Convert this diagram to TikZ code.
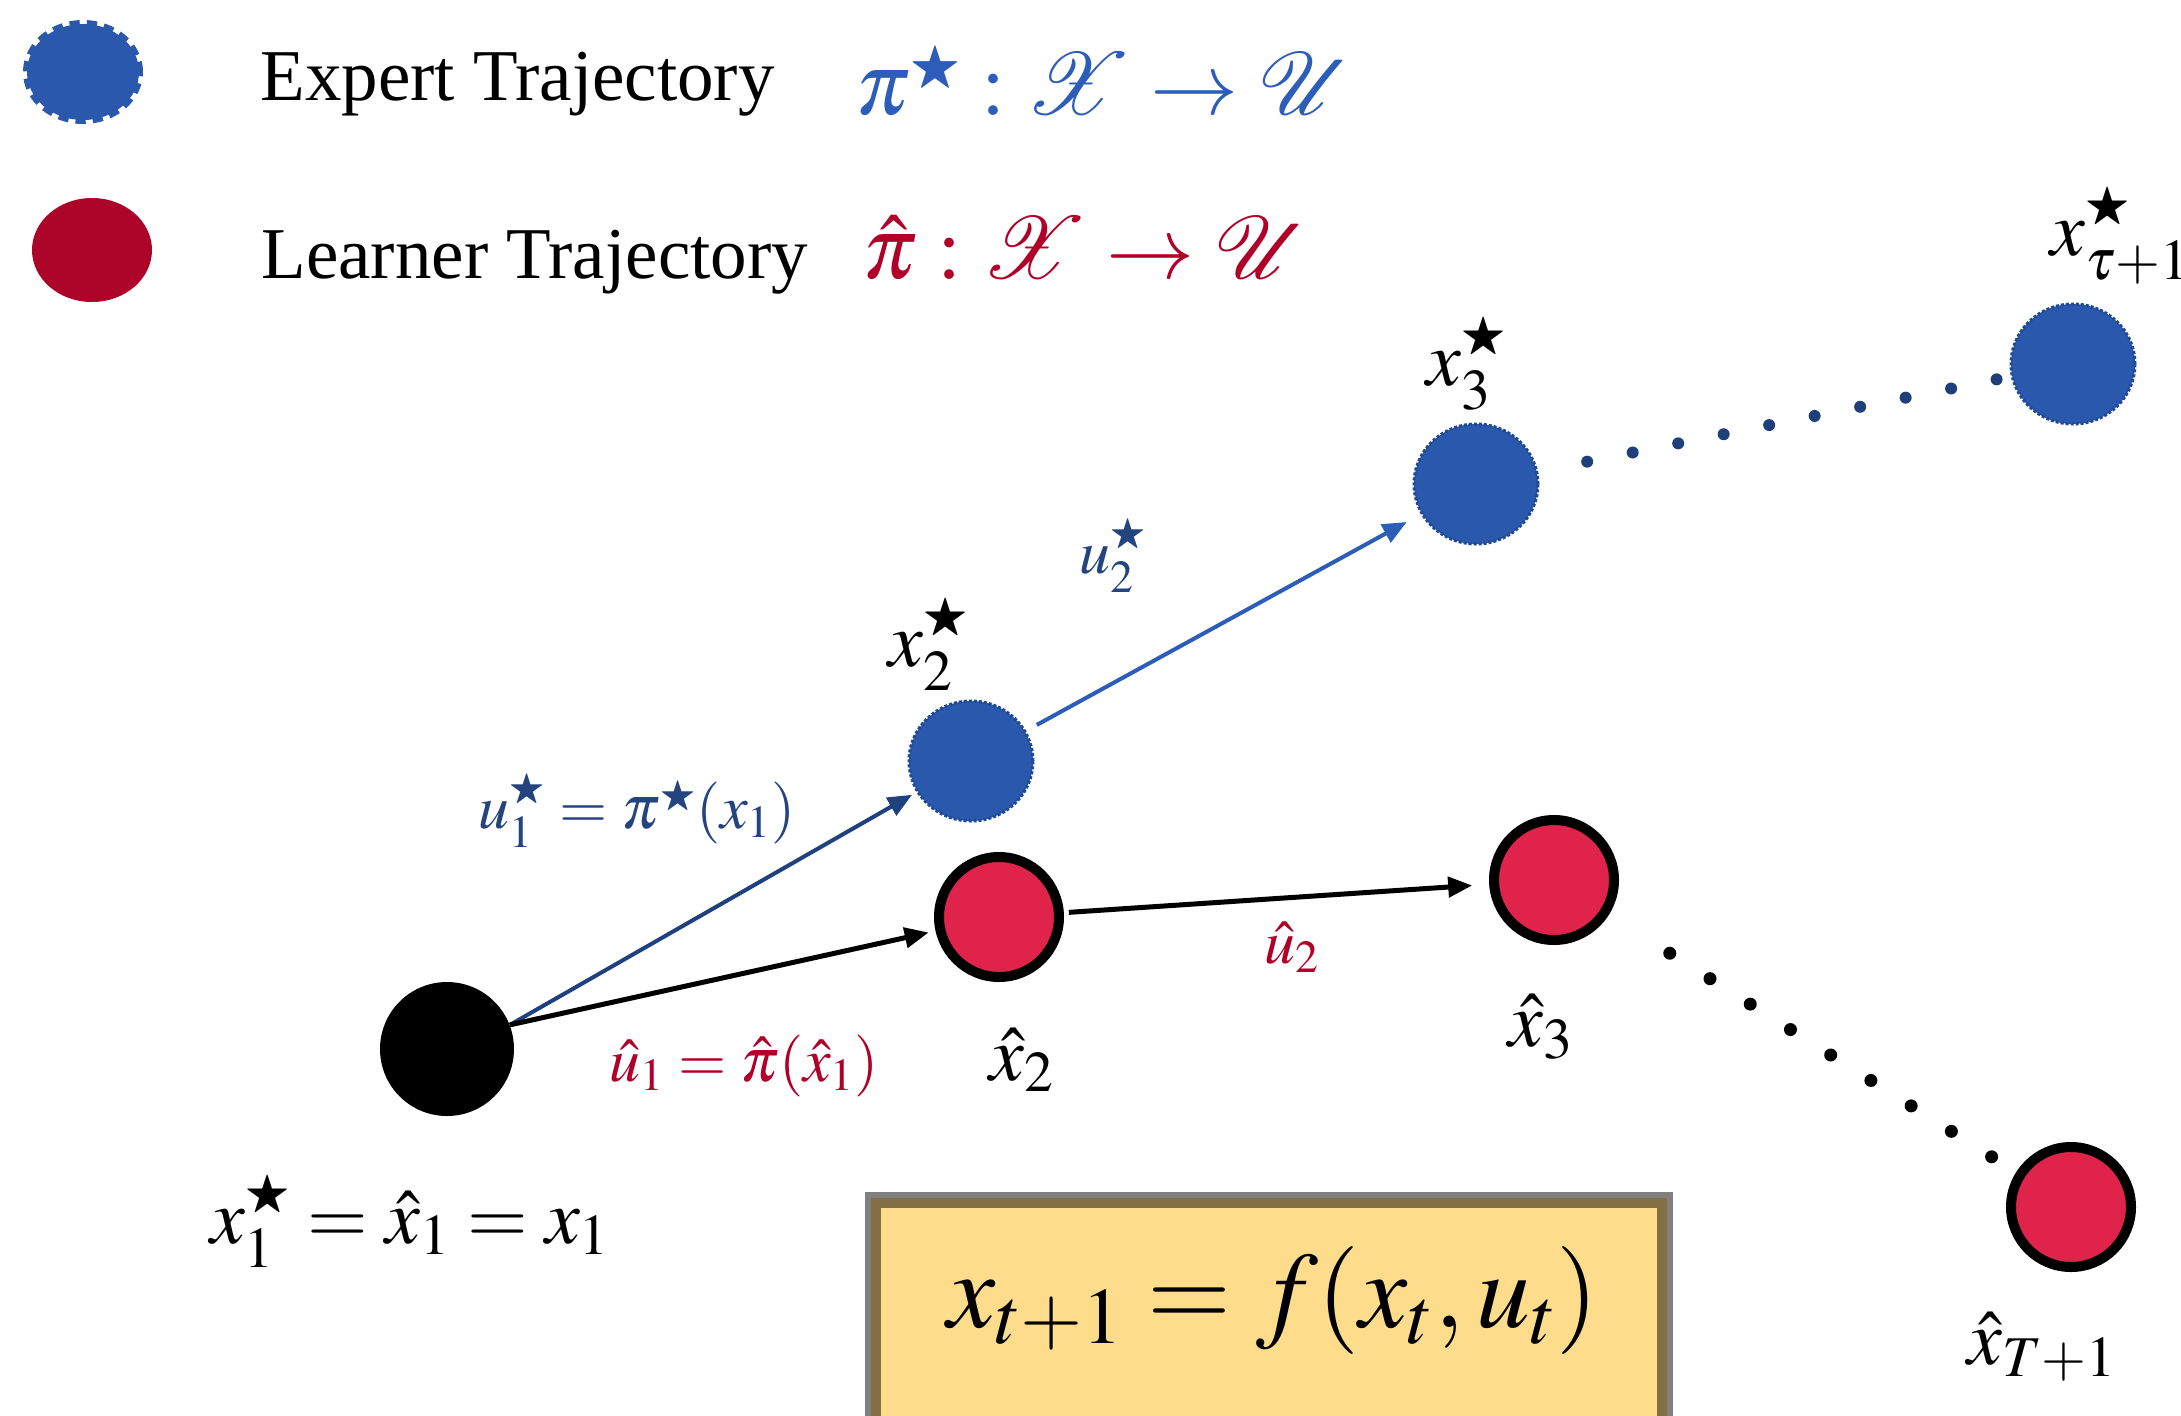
\documentclass[tikz,border=0pt]{standalone}
\usepackage{mathptmx}
\usepackage{amssymb}
\usepackage[no-math]{fontspec}
\setmainfont{Liberation Serif}
\usetikzlibrary{arrows.meta,shapes.geometric}
\DeclareFontFamily{U}{myrsfs}{\skewchar\font127}
\DeclareFontShape{U}{myrsfs}{m}{n}{<-> rsfs10}{}
\DeclareMathAlphabet{\myscr}{U}{myrsfs}{m}{n}
\newcommand{\sstar}{\scalebox{0.6}{$\bigstar$}}
\definecolor{bluefill}{HTML}{2A58AD}
\definecolor{bluebord}{HTML}{1F4A93}
\definecolor{bluedot}{HTML}{1E3F7A}
\definecolor{arrdark}{HTML}{1F4180}
\definecolor{arrlight}{HTML}{2C5DB8}
\definecolor{labblue}{HTML}{23447F}
\definecolor{redfill}{HTML}{E0234A}
\definecolor{legred}{HTML}{AD0429}
\definecolor{labred}{HTML}{B0002A}
\definecolor{yellowf}{HTML}{FDDD8C}
\definecolor{brownb}{HTML}{836E45}
\definecolor{greyb}{HTML}{808080}
\begin{document}
\begin{tikzpicture}[x=0.5pt,y=-0.5pt,
  expert/.style={ellipse, fill=bluefill, draw=bluebord, line width=1.5pt, dash pattern=on 1.5pt off 1pt, minimum width=62pt, minimum height=60pt, inner sep=0pt},
  learner/.style={circle, fill=redfill, draw=black, line width=5pt, minimum size=60pt, inner sep=0pt},
  startnode/.style={circle, fill=black, minimum size=67pt, inner sep=0pt},
  mlab/.style={font=\fontsize{39}{45}\selectfont, inner sep=0pt},
  ulab/.style={font=\fontsize{31}{36}\selectfont, inner sep=0pt},
  legtext/.style={font=\fontsize{36.5}{42}\selectfont, inner sep=0pt, anchor=base west},
  legmath/.style={font=\fontsize{44}{50}\selectfont, inner sep=0pt, anchor=base west},
  arrtip/.style={-{Triangle[length=12pt,width=10pt]}},
  dotline/.style={line cap=round, line width=5.5pt}
]
\useasboundingbox (0,0) rectangle (2181,1415);
\clip (0,0) rectangle (2181,1415);
\fill[white] (0,0) rectangle (2181,1415);

% legend
\node[ellipse, fill=bluefill, draw=bluefill, line width=4pt, dash pattern=on 5pt off 3.5pt, minimum width=56pt, minimum height=48pt, inner sep=0pt] (legE) at (83,72) {};
\node[legtext] (legEt) at (260,100) {Expert Trajectory};
\node[legmath, text=arrlight] (legEm) at (855,114) {$\pi^{\sstar} : \myscr{X} \rightarrow \myscr{U}$};
\node[ellipse, fill=legred, minimum width=60pt, minimum height=52pt, inner sep=0pt] (legL) at (92,250) {};
\node[legtext] (legLt) at (261,278) {Learner Trajectory};
\node[legmath, text=labred] (legLm) at (862,278) {$\hat{\pi} : \myscr{X} \rightarrow \myscr{U}$};

% nodes
\node[startnode] (start) at (447,1049) {};
\node[expert] (x2) at (971,761) {};
\node[expert] (x3) at (1476,484) {};
\node[expert] (xT) at (2073,364) {};
\node[learner] (h2) at (999,917) {};
\node[learner] (h3) at (1554,880) {};
\node[learner] (hT) at (2071,1207) {};

% labels
\node[mlab] (lx1) at (410,1221) {$x_1^{\sstar} = \hat{x}_1 = x_1$};
\node[mlab] (lx2) at (929,644) {$x_2^{\sstar}$};
\node[mlab] (lx3) at (1467,364) {$x_3^{\sstar}$};
\node[mlab, anchor=west] (lxT) at (2050,236) {$x_{\tau+1}^{\sstar}$};
\node[mlab] (lh2) at (1022,1060) {$\hat{x}_2$};
\node[mlab] (lh3) at (1541,1027) {$\hat{x}_3$};
\node[mlab] (lhT) at (2042,1347) {$\hat{x}_{T+1}$};
\node[ulab, text=labblue] (lu1) at (637,811) {$u_1^{\sstar} = \pi^{\sstar}(x_1)$};
\node[ulab, text=labblue] (lu2) at (1113,556) {$u_2^{\sstar}$};
\node[ulab, text=labred] (lh1) at (744,1066) {$\hat{u}_1 = \hat{\pi}(\hat{x}_1)$};
\node[ulab, text=labred] (lhu2) at (1292,947) {$\hat{u}_2$};

% arrows
\draw[arrtip, arrdark, line width=2pt, shorten >=2.5pt] (start.21) -- (x2);
\draw[arrtip, black, line width=2.5pt, shorten >=3.5pt] (start.21) -- (h2);
\draw[arrtip, arrlight, line width=2pt, shorten <=6pt, shorten >=8pt] (x2) -- (x3);
\draw[arrtip, black, line width=2.5pt, shorten <=2.5pt, shorten >=8.5pt] (h2) -- (h3);

% dotted continuations
\draw[dotline, bluedot, line width=6pt, dash pattern=on 0pt off 23.2pt, shorten <=25pt, shorten >=4pt] (x3) -- (xT);
\draw[dotline, black, line width=6.5pt, dash pattern=on 0pt off 23.8pt, shorten <=36pt, shorten >=14pt] (h3) -- (hT);

% dynamics box
\node[fill=greyb, minimum width=404pt, minimum height=124pt, inner sep=0pt] (dynbg) at (1269,1316) {};
\node[fill=yellowf, draw=brownb, line width=5pt, minimum width=393pt, minimum height=113pt, inner sep=0pt] (dyn) at (1269,1316) {};
\node[font=\fontsize{54}{64}\selectfont, inner sep=0pt] (dyneq) at (1273,1300) {$x_{t+1} = f(x_t, u_t)$};
\end{tikzpicture}
\end{document}
